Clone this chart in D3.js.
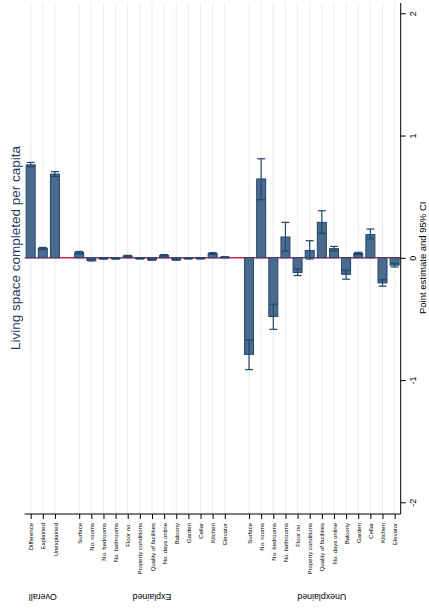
<!DOCTYPE html>
<html lang="en">
  <head>
    <meta charset="utf-8">
    <title>Oaxaca decomposition</title>
    <script src="https://d3js.org/d3.v7.min.js" charset="utf-8"></script>
    <style type="text/css">
        body {
            margin: 0;
            background: #fff;
            font-family: "Liberation Sans", Arial, sans-serif;
        }
    </style>
  </head>
  <body>
    <script type="text/javascript">
        // categories (slot = position along the category axis, with gaps between groups)
        var labels = ["Difference", "Explained", "Unexplained",
            "Surface", "No. rooms", "No. bedrooms", "No. bathrooms", "Floor no.", "Property conditions",
            "Quality of facilities", "No. days online", "Balcony", "Garden", "Cellar", "Kitchen", "Elevator",
            "Surface", "No. rooms", "No. bedrooms", "No. bathrooms", "Floor no.", "Property conditions",
            "Quality of facilities", "No. days online", "Balcony", "Garden", "Cellar", "Kitchen", "Elevator"];
        var slots = [0, 1, 2,
            4, 5, 6, 7, 8, 9, 10, 11, 12, 13, 14, 15, 16,
            18, 19, 20, 21, 22, 23, 24, 25, 26, 27, 28, 29, 30];
        // point estimates
        var estimate = [0.76, 0.077, 0.685,
            0.042, -0.02, -0.007, -0.007, 0.015, -0.006, -0.015, 0.02, -0.015, -0.006, -0.006, 0.035, 0.005,
            -0.79, 0.645, -0.48, 0.17, -0.12, 0.06, 0.29, 0.075, -0.135, 0.035, 0.19, -0.205, -0.06];
        // 95% CI
        var ciLow = [0.745, 0.07, 0.665,
            0.032, -0.026, -0.011, -0.011, 0.01, -0.01, -0.02, 0.014, -0.02, -0.01, -0.01, 0.028, 0.001,
            -0.915, 0.475, -0.585, 0.055, -0.145, -0.01, 0.2, 0.057, -0.175, 0.026, 0.155, -0.232, -0.075];
        var ciHigh = [0.78, 0.085, 0.705,
            0.052, -0.014, -0.003, -0.003, 0.02, -0.002, -0.01, 0.026, -0.01, -0.002, -0.002, 0.042, 0.009,
            -0.67, 0.81, -0.38, 0.29, -0.09, 0.14, 0.385, 0.093, -0.1, 0.045, 0.235, -0.18, -0.045];
        var groups = ["Overall", "Explained", "Unexplained"];
        var groupSlots = [[0, 2], [4, 16], [18, 30]];
        var yTicks = [-2, -1, 0, 1, 2];

        var W = 429, H = 609;
        var plotTop = 3, plotBottom = 514, plotLeft = 24.6, plotRight = 400.7;

        var data = labels.map(function (l, i) {
            return { label: l, slot: slots[i], est: estimate[i], lo: ciLow[i], hi: ciHigh[i] };
        });

        var svg = d3.select("body").append("svg")
            .attr("width", W).attr("height", H);

        var x = d3.scaleLinear().domain([-0.5, 30.5]).range([plotLeft, plotRight]);
        var y = d3.scaleLinear().domain([-2, 2]).range([502.3, 13.3]);

        // grid lines
        svg.append("g").selectAll("line")
            .data(data).enter().append("line")
            .attr("x1", function (d) { return x(d.slot); })
            .attr("x2", function (d) { return x(d.slot); })
            .attr("y1", plotTop).attr("y2", plotBottom)
            .attr("stroke", "#e6eef1").attr("stroke-width", 1);

        // zero line
        svg.append("line")
            .attr("x1", plotLeft).attr("x2", plotRight)
            .attr("y1", y(0)).attr("y2", y(0))
            .attr("stroke", "#d5234a").attr("stroke-width", 1.6);

        var barW = 9;
        // bars
        svg.append("g").selectAll("rect")
            .data(data).enter().append("rect")
            .attr("x", function (d) { return x(d.slot) - barW / 2; })
            .attr("y", function (d) { return y(Math.max(0, d.est)); })
            .attr("width", barW)
            .attr("height", function (d) { return Math.abs(y(d.est) - y(0)); })
            .attr("fill", "#4a6b8e")
            .attr("stroke", "#1f4770").attr("stroke-width", 1);

        // CI caps
        var ci = svg.append("g").attr("stroke", "#1f4770").attr("stroke-width", 1.2);
        ci.selectAll("line.v").data(data).enter().append("line")
            .attr("class", "v")
            .attr("x1", function (d) { return x(d.slot); })
            .attr("x2", function (d) { return x(d.slot); })
            .attr("y1", function (d) { return y(d.lo); })
            .attr("y2", function (d) { return y(d.hi); });
        ["lo", "hi"].forEach(function (k) {
            ci.selectAll("line." + k).data(data).enter().append("line")
                .attr("class", k)
                .attr("x1", function (d) { return x(d.slot) - 4; })
                .attr("x2", function (d) { return x(d.slot) + 4; })
                .attr("y1", function (d) { return y(d[k]); })
                .attr("y2", function (d) { return y(d[k]); });
        });

        // category axis
        var xAxis = svg.append("g")
            .attr("transform", "translate(0," + plotBottom + ")")
            .call(d3.axisBottom(x).tickValues(slots)
                .tickFormat(function (s) { return labels[slots.indexOf(s)]; })
                .tickSize(5).tickSizeOuter(0));
        xAxis.select(".domain").remove();
        xAxis.append("line").attr("x1", plotLeft).attr("x2", plotRight)
            .attr("stroke", "#000").attr("stroke-width", 1);
        xAxis.selectAll(".tick line").attr("stroke", "#000");
        xAxis.selectAll(".tick text")
            .attr("font-family", "Liberation Sans, Arial, sans-serif")
            .attr("font-size", 6).attr("fill", "#000")
            .attr("text-anchor", "end")
            .attr("dy", "0.35em")
            .attr("transform", "translate(0,9) rotate(-90)")
            .attr("x", 0).attr("y", 0);

        // value axis (right)
        var yAxis = svg.append("g")
            .attr("transform", "translate(" + plotRight + ",0)")
            .call(d3.axisRight(y).tickValues(yTicks).tickSize(5).tickSizeOuter(0)
                .tickFormat(function (v) { return String(v); }));
        yAxis.select(".domain").remove();
        yAxis.append("line").attr("y1", plotTop).attr("y2", plotBottom)
            .attr("stroke", "#000").attr("stroke-width", 1);
        yAxis.selectAll(".tick line").attr("stroke", "#000");
        yAxis.selectAll(".tick text")
            .attr("font-family", "Liberation Sans, Arial, sans-serif")
            .attr("font-size", 9).attr("fill", "#000")
            .attr("text-anchor", "middle")
            .attr("x", 0).attr("dy", 0)
            .attr("transform", "translate(15,0) rotate(-90)")
            .attr("y", 0);

        // group labels (upside down)
        svg.append("g").selectAll("text")
            .data(groups).enter().append("text")
            .attr("transform", function (g, i) {
                var cx = x((groupSlots[i][0] + groupSlots[i][1]) / 2);
                return "translate(" + cx + ",597) rotate(180)";
            })
            .attr("text-anchor", "middle")
            .attr("dominant-baseline", "central")
            .attr("font-size", 8.8).attr("fill", "#000")
            .text(function (g) { return g; });

        // axis titles
        svg.append("text")
            .attr("transform", "translate(422," + y(0) + ") rotate(-90)")
            .attr("text-anchor", "middle").attr("dominant-baseline", "central")
            .attr("font-size", 9.5).attr("fill", "#000")
            .text("Point estimate and 95% CI");

        svg.append("text")
            .attr("transform", "translate(15,248) rotate(-90)")
            .attr("text-anchor", "middle").attr("dominant-baseline", "central")
            .attr("font-size", 13.5).attr("fill", "#1e3c63")
            .text("Living space completed per capita");
    </script>
  </body>
</html>
